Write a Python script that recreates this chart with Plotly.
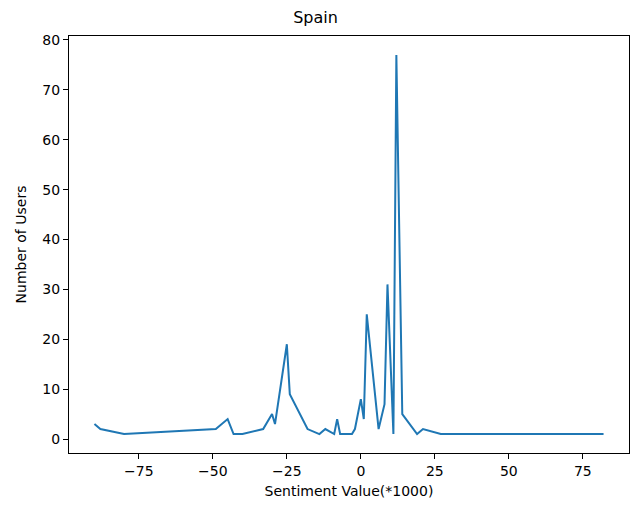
import plotly.graph_objects as go

sentiment = [-90, -88, -80, -49, -45, -43, -40, -33, -30, -29, -25, -24, -18, -14, -12,
             -9, -8, -7, -3, -2, 0, 1, 2, 6, 8, 9, 11, 12, 14, 19, 21, 27, 82]
users = [3, 2, 1, 2, 4, 1, 1, 2, 5, 3, 19, 9, 2, 1, 2,
         1, 4, 1, 1, 2, 8, 4, 25, 2, 7, 31, 1, 77, 5, 1, 2, 1, 1]

x_ticks = [-75, -50, -25, 0, 25, 50, 75]
y_ticks = [0, 10, 20, 30, 40, 50, 60, 70, 80]

fig = go.Figure(go.Scatter(x=sentiment, y=users, mode="lines",
                           line=dict(color="#1f77b4", width=2)))

font = dict(family="DejaVu Sans", size=14, color="black")
axis_common = dict(showgrid=False, zeroline=False, showline=True, linecolor="black",
                   linewidth=1, mirror=True, ticks="outside", ticklen=5, tickwidth=1,
                   tickcolor="black", tickfont=font, automargin=False)

fig.update_layout(
    width=631, height=505,
    margin=dict(l=69, r=2, t=36, b=52),
    paper_bgcolor="white", plot_bgcolor="white",
    title=dict(text="Spain", x=0.5, xanchor="center", y=1 - 17 / 505, yanchor="middle",
               font=dict(family="DejaVu Sans", size=16, color="black")),
    showlegend=False,
    xaxis=dict(range=[-98.6, 90.6], tickvals=x_ticks,
               title=dict(text="Sentiment Value(*1000)", font=font, standoff=8),
               **axis_common),
    yaxis=dict(range=[-2.8, 80.8], tickvals=y_ticks,
               title=dict(text="Number of Users", font=font, standoff=12),
               **axis_common),
)

post = ("document.body.style.margin='0';document.body.style.padding='0';"
        "document.body.style.overflow='hidden';"
        "Plotly.relayout(document.getElementById('{plot_id}'), {width: 631, height: 505});")
fig.write_html("out.html", post_script=post,
               config={"responsive": False, "displayModeBar": False})
